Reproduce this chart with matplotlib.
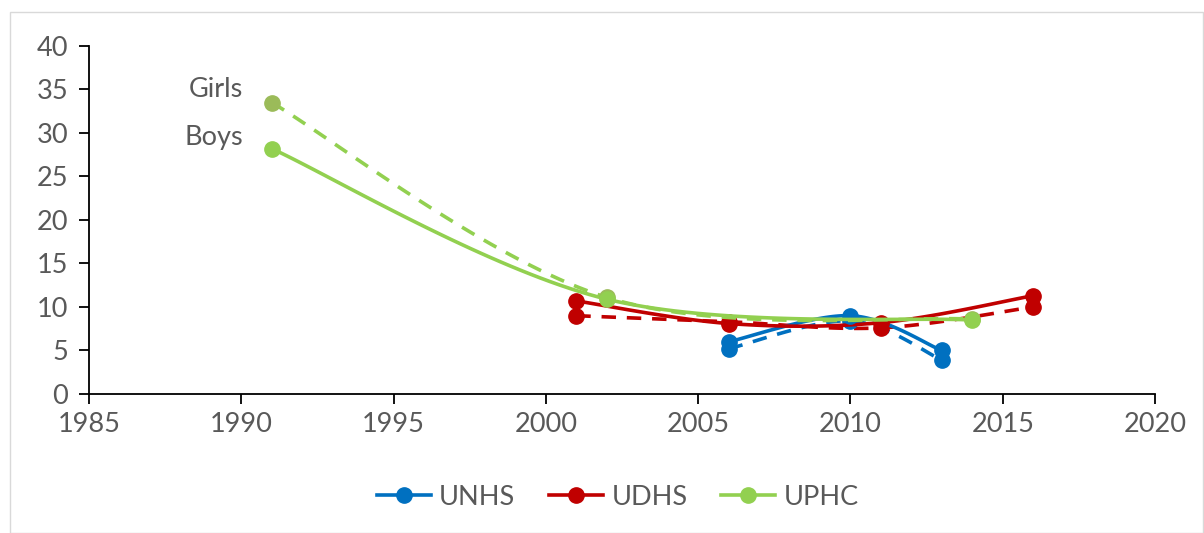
import numpy as np
import matplotlib
matplotlib.use("Agg")
import matplotlib.pyplot as plt
from matplotlib.lines import Line2D
from matplotlib.patches import Rectangle

# Data
unhs_years = [2006, 2010, 2013]
unhs_boys = [6.0, 9.0, 5.0]
unhs_girls = [5.2, 8.4, 3.9]

udhs_years = [2001, 2006, 2011, 2016]
udhs_boys = [10.7, 8.1, 8.2, 11.3]
udhs_girls = [9.0, 8.3, 7.6, 10.0]

uphc_years = [1991, 2002, 2014]
uphc_boys = [28.2, 10.9, 8.5]
uphc_girls = [33.5, 11.1, 8.6]

series_names = ["UNHS", "UDHS", "UPHC"]
x_ticks = [1985, 1990, 1995, 2000, 2005, 2010, 2015, 2020]
y_ticks = [0, 5, 10, 15, 20, 25, 30, 35, 40]

BLUE = "#0070C0"
RED = "#C00000"
GREEN = "#92D050"
OLIVE = "#9BBB59"
GRAY = "#595959"

plt.rcParams['font.family'] = ['Lato', 'DejaVu Sans']
FS = 19.5


def smooth(xs, ys, n=40):
    xs = np.asarray(xs, float)
    ys = np.asarray(ys, float)
    px = np.concatenate([[xs[0]], xs, [xs[-1]]])
    py = np.concatenate([[ys[0]], ys, [ys[-1]]])
    outx, outy = [], []
    t = np.linspace(0, 1, n)
    for i in range(1, len(px) - 2):
        p0 = np.array([px[i], py[i]])
        p3 = np.array([px[i + 1], py[i + 1]])
        p1 = p0 + (np.array([px[i + 1], py[i + 1]]) - np.array([px[i - 1], py[i - 1]])) / 6
        p2 = p3 - (np.array([px[i + 2], py[i + 2]]) - np.array([px[i], py[i]])) / 6
        b = ((1 - t) ** 3)[:, None] * p0 + (3 * (1 - t) ** 2 * t)[:, None] * p1 + \
            (3 * (1 - t) * t ** 2)[:, None] * p2 + (t ** 3)[:, None] * p3
        outx.extend(b[:, 0])
        outy.extend(b[:, 1])
    return outx, outy


fig = plt.figure(figsize=(12.04, 5.33), dpi=100)
ax = fig.add_axes([0.0739, 0.2608, 0.8854, 0.6529])

lw = 2.6
ms = 11
dash = (0, (4, 3))


def draw(xs, ys, color, mcolor, ls, z):
    sx, sy = smooth(xs, ys)
    ax.plot(sx, sy, color=color, lw=lw, linestyle=ls, zorder=z, solid_capstyle='round')
    ax.plot(xs, ys, linestyle='none', marker='o', ms=ms, color=mcolor, zorder=z + 0.5)


draw(unhs_years, unhs_girls, BLUE, BLUE, dash, 2)
draw(unhs_years, unhs_boys, BLUE, BLUE, '-', 3)
draw(udhs_years, udhs_girls, RED, RED, dash, 2)
draw(udhs_years, udhs_boys, RED, RED, '-', 3)
draw(uphc_years, uphc_girls, GREEN, OLIVE, dash, 4)
draw(uphc_years, uphc_boys, GREEN, GREEN, '-', 4)

ax.set_xlim(x_ticks[0], x_ticks[-1])
ax.set_ylim(y_ticks[0], y_ticks[-1])
ax.set_xticks(x_ticks)
ax.set_yticks(y_ticks)
ax.tick_params(axis='both', direction='out', length=7, width=1.3, color='black',
               labelsize=FS, labelcolor=GRAY)
ax.tick_params(axis='y', pad=8)
ax.tick_params(axis='x', pad=6)
for s in ['top', 'right']:
    ax.spines[s].set_visible(False)
for s in ['left', 'bottom']:
    ax.spines[s].set_linewidth(1.3)
    ax.spines[s].set_color('black')

ax.text(1990.05, 34.1, "Girls", fontsize=FS, color=GRAY, ha='right', va='baseline')
ax.text(1990.05, 28.6, "Boys", fontsize=FS, color=GRAY, ha='right', va='baseline')

handles = [Line2D([], [], color=c, lw=lw, marker='o', ms=ms)
           for c in [BLUE, RED, GREEN]]
fig.legend(handles, series_names, loc='center', bbox_to_anchor=(0.513, 0.067),
           ncol=3, frameon=False, fontsize=FS, labelcolor=GRAY,
           handlelength=2.0, handletextpad=0.3, columnspacing=1.25)

fig.patches.append(Rectangle((10 / 1204, 0), 1 - 10 / 1204 - 0.0005, 1 - 12 / 533,
                             transform=fig.transFigure, fill=False,
                             edgecolor='#D9D9D9', lw=1))

fig.savefig("out.png", dpi=100)
